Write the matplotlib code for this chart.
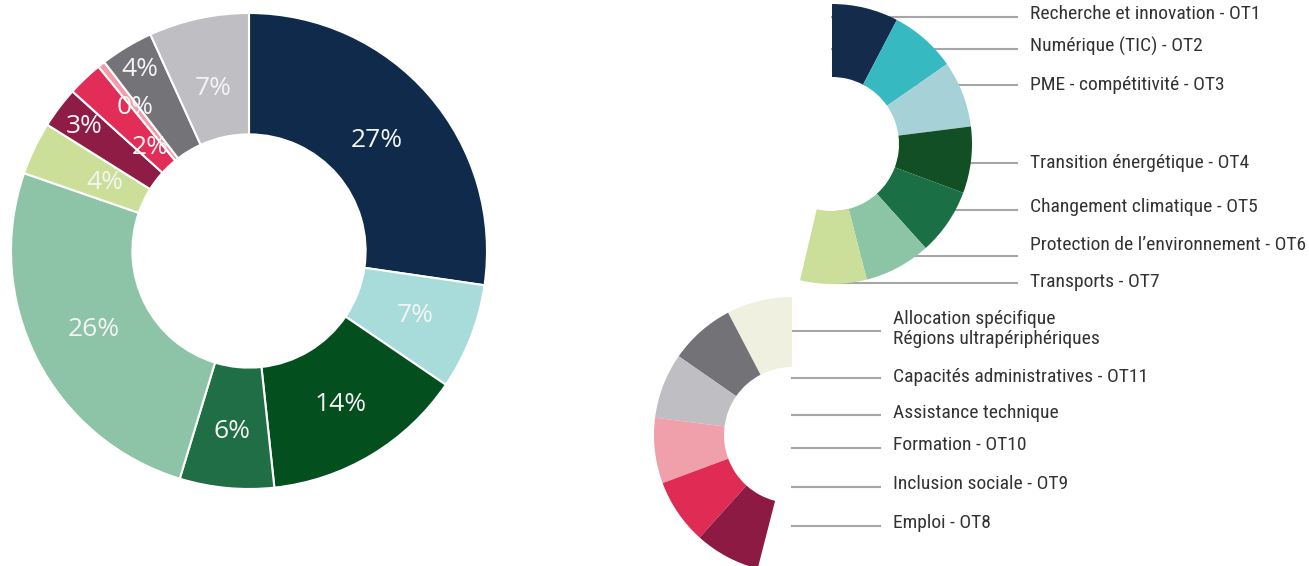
import numpy as np
import matplotlib
matplotlib.use("Agg")
import matplotlib.pyplot as plt
from matplotlib import font_manager as fm
from matplotlib.patches import Wedge, Circle

W, H = 1309, 566

# main donut, clockwise from the top
shares = [27.3, 7.2, 13.8, 6.4, 25.6, 3.6, 2.8, 2.4, 0.5, 3.6, 6.8]
share_labels = ["27%", "7%", "14%", "6%", "26%", "4%", "3%", "2%", "0%", "4%", "7%"]
share_colors = ["#0f2a4a", "#a7dcda", "#03501e", "#1f6e45", "#8dc4a8", "#cbdf99",
                "#8e1c45", "#e12d57", "#f29baa", "#747378", "#bfbfc3"]

# legend arcs
top_labels = ["Recherche et innovation - OT1", "Numérique (TIC) - OT2", "PME - compétitivité - OT3",
              "Transition énergétique - OT4", "Changement climatique - OT5",
              "Protection de l\u2019environnement - OT6", "Transports - OT7"]
top_colors = ["#152b4b", "#36b9c0", "#a6d1d7", "#124f24", "#1a6f45", "#8cc4a6", "#cbdf9a"]
bottom_labels = ["Allocation spécifique\nRégions ultrapériphériques", "Capacités administratives - OT11",
                 "Assistance technique", "Formation - OT10", "Inclusion sociale - OT9", "Emploi - OT8"]
bottom_colors = ["#eff0df", "#737276", "#bfbec3", "#f0a0aa", "#e02b55", "#8d1a42"]


def narrow_font():
    # the legend uses a narrow grotesque; take whichever condensed face is around
    for name in ["Roboto Condensed", "Archivo Narrow", "PT Sans Narrow", "Liberation Sans Narrow",
                 "Open Sans Condensed", "Barlow Condensed", "Fira Sans Condensed"]:
        try:
            fm.findfont(fm.FontProperties(family=name), fallback_to_default=False)
            return name, 14
        except ValueError:
            pass
    return "Roboto", 12.5


fig = plt.figure(figsize=(W / 100, H / 100), dpi=100)

# donut: center (249, 251) px, outer radius 238 px
cx, cy, R = 249, 251, 238
ax = fig.add_axes([(cx - R) / W, (H - cy - R) / H, 2 * R / W, 2 * R / H])
wedges, _ = ax.pie(shares, colors=share_colors, startangle=90, counterclock=False,
                   radius=1, wedgeprops=dict(width=0.51, edgecolor="white", linewidth=1.5))
ax.set_xlim(-1, 1)
ax.set_ylim(-1, 1)
ax.axis("off")

label_r = [0.71, 0.75, 0.75, 0.76, 0.73, 0.67, 0.87, 0.60, 0.77, 0.89, 0.70]
for w, txt, rr in zip(wedges, share_labels, label_r):
    mid = np.deg2rad((w.theta1 + w.theta2) / 2)
    ax.text(rr * np.cos(mid), rr * np.sin(mid), txt, ha="center", va="center",
            fontsize=19, color="#f4f4f4", family=["Open Sans", "DejaVu Sans"])

# legend overlay in pixel coordinates
lx = fig.add_axes([0, 0, 1, 1])
lx.set_xlim(0, W)
lx.set_ylim(0, H)
lx.axis("off")

fname, fsize = narrow_font()
span = 27.6
font = dict(fontsize=fsize, color="#333333", va="center", family=[fname, "DejaVu Sans"])

# upper arc
ucx, ucy, uR, ur = 832, H - 144, 140, 67
top_line_y = [17, 49, 85, 163, 210, 256, 283]
top_text_y = [14, 46, 85, 163, 207, 245, 282]
for i, (lab, col) in enumerate(zip(top_labels, top_colors)):
    t2 = 90 - i * span
    lx.add_patch(Wedge((ucx, ucy), uR, t2 - span, t2, width=uR - ur, facecolor=col,
                       linewidth=0, zorder=3))
    lx.plot([ucx, 1017], [H - top_line_y[i]] * 2, color="#a6a6a6", lw=1.5, zorder=1)
    lx.text(1030, H - top_text_y[i], lab, **font)
lx.add_patch(Circle((ucx, ucy), ur, facecolor="white", linewidth=0, zorder=2))

# lower arc
bcx, bcy, bR, br = 792, H - 435, 138, 68
bot_line_y = [331, 378, 415, 448, 487, 526]
bot_text_y = [329, 377, 413, 445, 484, 523]
for i, (lab, col) in enumerate(zip(bottom_labels, bottom_colors)):
    t1 = 90 + i * span
    lx.add_patch(Wedge((bcx, bcy), bR, t1, t1 + span, width=bR - br, facecolor=col,
                       linewidth=0, zorder=3))
    lx.plot([bcx, 880], [H - bot_line_y[i]] * 2, color="#a6a6a6", lw=1.5, zorder=1)
    lx.text(893, H - bot_text_y[i], lab, linespacing=1.1, **font)

fig.savefig("out.png", dpi=100)
